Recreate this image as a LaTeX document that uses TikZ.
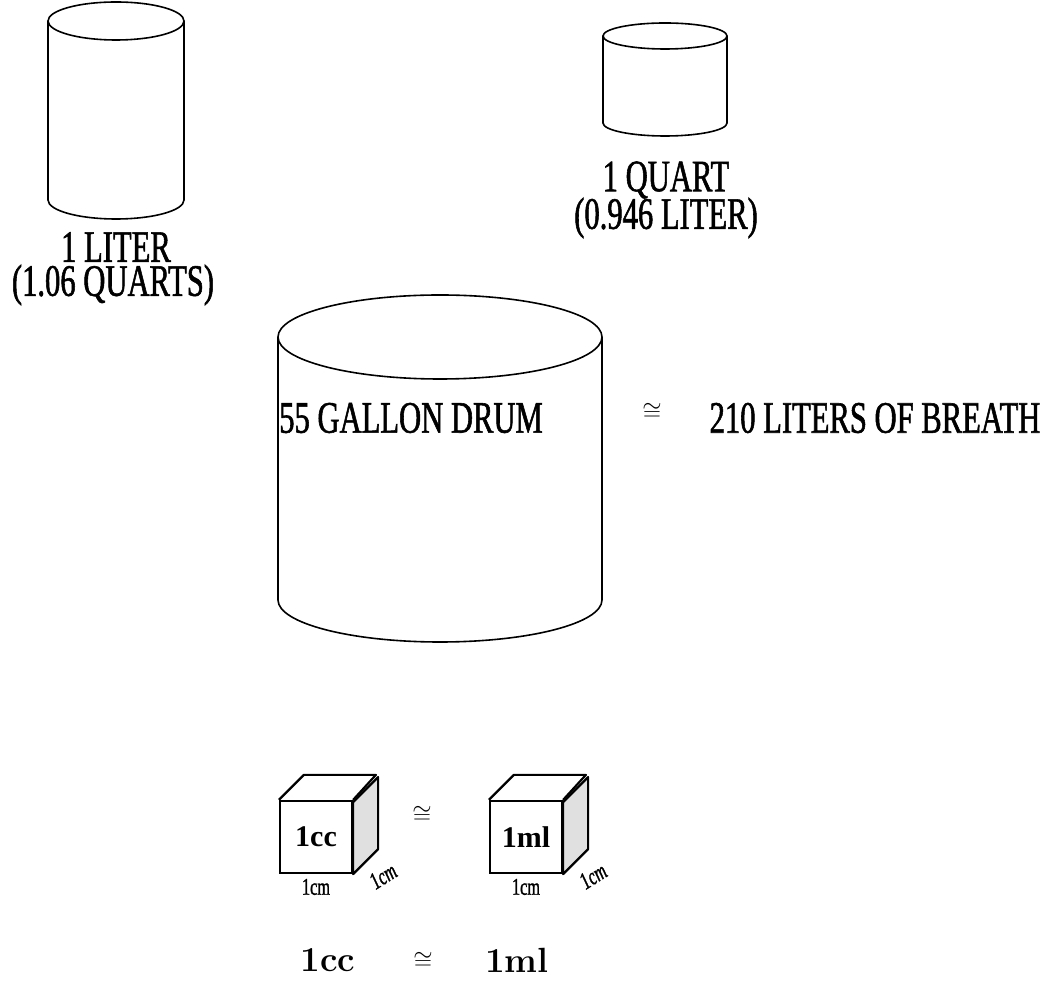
\documentclass[tikz,border=0pt]{standalone}
\usepackage{amsmath}
\usepackage{amssymb}
\usepackage{fontspec}
\usetikzlibrary{positioning}
\newfontfamily\tallfont[FakeStretch=0.68,FakeBold=1.2]{Liberation Serif}
\newfontfamily\boxfont{Liberation Serif}
% cylinder: centre x, top y, bottom y, x radius, y radius
\newcommand{\barrel}[5]{%
  \draw (#1-#4,#2) -- (#1-#4,#3)
        arc[start angle=180,end angle=360,x radius=#4,y radius=#5] -- (#1+#4,#2);
  \draw (#1,#2) ellipse[x radius=#4,y radius=#5];}

\begin{document}
\begin{tikzpicture}[x=1pt,y=1pt,line width=1.6pt,node distance=4pt]
  % styles
  \tikzstyle{bigtext} = [font=\tallfont\fontsize{45}{48}\selectfont,inner sep=0pt];
  \tikzstyle{facebox} = [draw,line width=2.2pt,minimum size=72pt,inner sep=0pt,
                         font=\boxfont\bfseries\fontsize{30}{32}\selectfont];
  \tikzstyle{sideface} = [fill=black!12,draw,line width=2.2pt,line join=round];
  \tikzstyle{dimtext} = [font=\tallfont\fontsize{24}{26}\selectfont,inner sep=0pt];
  \tikzstyle{slanttext} = [font=\tallfont\itshape\fontsize{24}{26}\selectfont,inner sep=0pt,rotate=32];
  \tikzstyle{sumtext} = [font=\bfseries\fontsize{35}{38}\selectfont,inner sep=0pt];
  \tikzstyle{approx} = [font=\fontsize{34}{36}\selectfont,inner sep=0pt];

  \useasboundingbox (0,0) rectangle (1060,980);

  % cylinders
  \barrel{116}{959}{780}{68}{19}
  \barrel{665}{944}{857}{62}{13}
  \barrel{440}{643}{380}{162}{42}

  % labels
  \node[bigtext] (liter) at (116,733) {1 LITER};
  \node[bigtext] (literq) at (113,695) {(1.06 QUARTS)};
  \node[bigtext] (quart) at (666,800) {1 QUART};
  \node[bigtext] (quartl) at (666,762) {(0.946 LITER)};
  \node[bigtext] (drum) at (411,562) {55 GALLON DRUM};
  \node[approx] (eqdrum) at (652,568) {$\cong$};
  \node[bigtext] (breath) at (875,562) {210 LITERS OF BREATH};

  % cubes
  \node[facebox] (cc) at (316,143) {1cc};
  \node[facebox] (ml) at (526,143) {1ml};
  \foreach \c in {cc,ml} {
    \draw[sideface] (\c.south east) -- ++(25,25) -- ++(0,72) -- ++(-25,-25) -- cycle;
    \draw[line width=2.2pt,line join=round] (\c.north west) -- ++(25,25) -- ++(72,0) -- (\c.north east);
  }
  \node[dimtext,below=4pt of cc] (ccw) {1cm};
  \node[slanttext] (ccd) at ([shift={(30,-2)}]cc.south east) {1cm};
  \node[dimtext,below=4pt of ml] (mlw) {1cm};
  \node[slanttext] (mld) at ([shift={(30,-2)}]ml.south east) {1cm};
  \node[approx] (eqcube) at (422,165) {$\cong$};

  % bottom line
  \node[sumtext] (sumcc) at (328,20) {1cc};
  \node[approx] (eqsum) at (423,19) {$\cong$};
  \node[sumtext] (summl) at (517,20) {1ml};
\end{tikzpicture}
\end{document}
